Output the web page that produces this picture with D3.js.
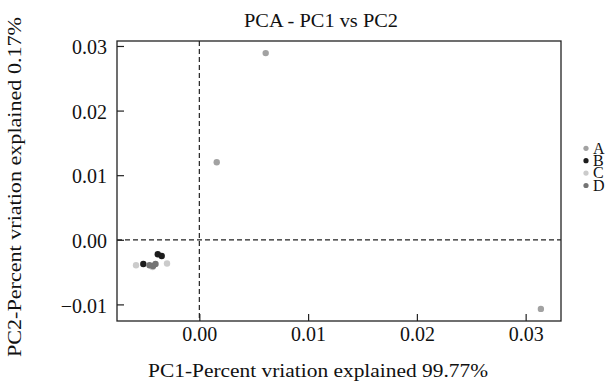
<!DOCTYPE html>
<html>
<head>
<meta charset="utf-8">
<script src="https://cdn.jsdelivr.net/npm/d3@7/dist/d3.min.js"></script>
<style>
  body { margin: 0; background: #fff; }
  svg text { font-family: "Liberation Serif", "DejaVu Serif", serif; fill: #111; }
</style>
</head>
<body>
<div id="chart"></div>
<script>
// sample groups
var groups = ["A", "B", "C", "D"];
var groupColors = ["#a2a2a2", "#1c1c1c", "#cbcbcb", "#747474"];

// PC1 / PC2 scores per group
var pc1A = [0.0061, 0.0016, 0.0314];
var pc2A = [0.0289, 0.0120, -0.0107];
var pc1B = [-0.00515, -0.00382, -0.00346];
var pc2B = [-0.00375, -0.00224, -0.00251];
var pc1C = [-0.00582, -0.00297, -0.00430];
var pc2C = [-0.00395, -0.00368, -0.00421];
var pc1D = [-0.00458, -0.00426, -0.00403];
var pc2D = [-0.00395, -0.00406, -0.00375];

var xTicks = [0.00, 0.01, 0.02, 0.03];
var yTicks = [-0.01, 0.00, 0.01, 0.02, 0.03];

var points = [];
[[pc1A, pc2A], [pc1B, pc2B], [pc1C, pc2C], [pc1D, pc2D]].forEach(function(s, g) {
    s[0].forEach(function(v, i) {
        points.push({ group: groups[g], x: v, y: s[1][i] });
    });
});

var W = 610, H = 381;
var margin = { top: 41, right: 49, bottom: 60, left: 117 };
var width = W - margin.left - margin.right;
var height = H - margin.top - margin.bottom;

var svg = d3.select("#chart").append("svg")
    .attr("width", W)
    .attr("height", H);

var g = svg.append("g")
    .attr("transform", "translate(" + margin.left + "," + margin.top + ")");

var x = d3.scaleLinear().domain([-0.00757, 0.03325]).range([0, width]);
var y = d3.scaleLinear().domain([-0.01257, 0.03077]).range([height, 0]);
var color = d3.scaleOrdinal().domain(groups).range(groupColors);

// zero lines
g.append("line")
    .attr("x1", x(0)).attr("x2", x(0))
    .attr("y1", 0).attr("y2", height)
    .attr("stroke", "#222").attr("stroke-width", 1.2)
    .attr("stroke-dasharray", "5,3");
g.append("line")
    .attr("x1", 0).attr("x2", width)
    .attr("y1", y(0)).attr("y2", y(0))
    .attr("stroke", "#222").attr("stroke-width", 1.2)
    .attr("stroke-dasharray", "5,3");

var fmt = function(d) { return d3.format(".2f")(d).replace("-", "\u2212"); };

var xAxis = g.append("g")
    .attr("transform", "translate(0," + height + ")")
    .call(d3.axisBottom(x).tickValues(xTicks).tickSize(-7).tickPadding(6).tickFormat(fmt));
var yAxis = g.append("g")
    .call(d3.axisLeft(y).tickValues(yTicks).tickSize(-7).tickPadding(10).tickFormat(fmt));

[xAxis, yAxis].forEach(function(a) {
    a.select(".domain").remove();
    a.selectAll(".tick line").attr("stroke", "#222").attr("stroke-width", 1.2);
    a.selectAll(".tick text")
        .style("font-family", "Liberation Serif")
        .style("font-size", "20px")
        .attr("fill", "#111");
});
yAxis.selectAll(".tick text").attr("dy", "0.38em");

// frame
g.append("rect")
    .attr("width", width).attr("height", height)
    .attr("fill", "none").attr("stroke", "#222").attr("stroke-width", 1.3);

g.selectAll(".dot")
    .data(points).enter().append("circle")
    .attr("class", "dot")
    .attr("cx", function(d) { return x(d.x); })
    .attr("cy", function(d) { return y(d.y); })
    .attr("r", 3.2)
    .attr("fill", function(d) { return color(d.group); });

// titles
svg.append("text")
    .attr("x", 321).attr("y", 27)
    .attr("text-anchor", "middle")
    .attr("textLength", 154)
    .attr("lengthAdjust", "spacingAndGlyphs")
    .style("font-size", "19px")
    .text("PCA - PC1 vs PC2");

svg.append("text")
    .attr("x", 318).attr("y", 377)
    .attr("text-anchor", "middle")
    .attr("textLength", 340)
    .attr("lengthAdjust", "spacingAndGlyphs")
    .style("font-size", "19px")
    .text("PC1-Percent vriation explained 99.77%");

svg.append("text")
    .attr("transform", "translate(21,187) rotate(-90)")
    .attr("text-anchor", "middle")
    .attr("textLength", 340)
    .attr("lengthAdjust", "spacingAndGlyphs")
    .style("font-size", "19px")
    .text("PC2-Percent vriation explained 0.17%");

// legend
var legend = svg.selectAll(".lg")
    .data(groups).enter().append("g")
    .attr("class", "lg")
    .attr("transform", function(d, i) { return "translate(586," + (148.3 + i * 12.4) + ")"; });
legend.append("circle")
    .attr("r", 2.6)
    .attr("fill", function(d) { return color(d); });
legend.append("text")
    .attr("x", 7).attr("y", 5.3)
    .style("font-size", "16px")
    .text(function(d) { return d; });
</script>
</body>
</html>
